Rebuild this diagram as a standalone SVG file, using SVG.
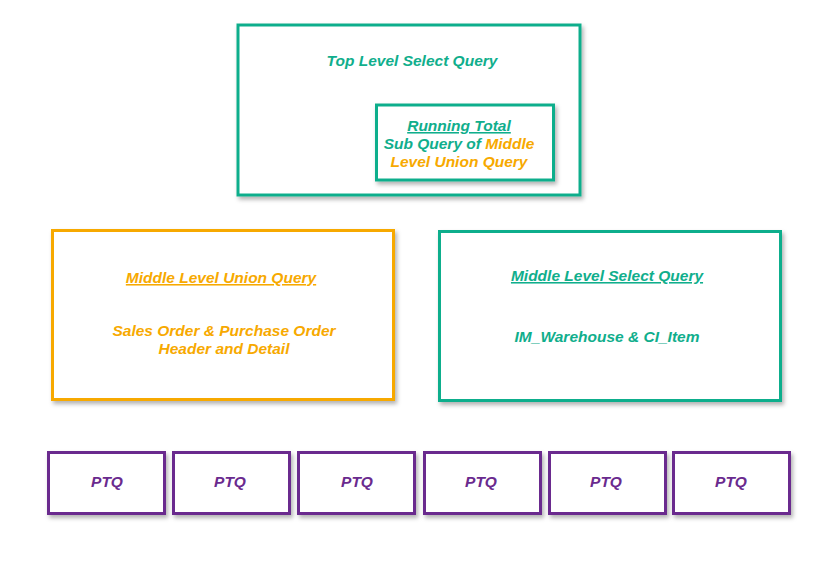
<svg xmlns="http://www.w3.org/2000/svg" width="823" height="575" viewBox="0 0 823 575">
<defs>
<filter id="sh" x="-10%" y="-10%" width="130%" height="140%">
<feDropShadow dx="2" dy="3" stdDeviation="2" flood-color="#000" flood-opacity="0.3"/>
</filter>
<style>
.box{fill:#fff;stroke-width:3;filter:url(#sh)}
.teal{stroke:#10AE8C}
.orange{stroke:#F7A900}
.purple{stroke:#6A2A8E}
text{font-family:"Liberation Sans",Arial,sans-serif;font-weight:bold;font-style:italic;font-size:15.5px;text-anchor:middle}
.tt{fill:#10AE8C}
.to{fill:#F7A900}
.tp{fill:#6A2A8E}
.u{text-decoration:underline}
</style>
</defs>
<rect width="823" height="575" fill="#fff"/>
<g id="connectors"></g>
<g id="top">
<rect class="box teal" x="238" y="25" width="342" height="170"/>
<text class="tt" x="412" y="66">Top Level Select Query</text>
</g>
<g id="running-total">
<rect class="box teal" x="376.5" y="105" width="177" height="75"/>
<text class="tt u" x="459" y="131">Running Total</text>
<text x="459" y="149"><tspan class="tt">Sub Query of </tspan><tspan class="to">Middle</tspan></text>
<text class="to" x="459" y="167">Level Union Query</text>
</g>
<g id="middle-union">
<rect class="box orange" x="52.5" y="230.5" width="341" height="169"/>
<text class="to u" x="221" y="283">Middle Level Union Query</text>
<text class="to" x="224" y="336">Sales Order &amp; Purchase Order</text>
<text class="to" x="224" y="354">Header and Detail</text>
</g>
<g id="middle-select">
<rect class="box teal" x="439.5" y="231.5" width="341" height="169"/>
<text class="tt u" x="607" y="281">Middle Level Select Query</text>
<text class="tt" x="607" y="342">IM_Warehouse &amp; CI_Item</text>
</g>
<g id="ptq1"><rect class="box purple" x="48.5" y="452.5" width="116" height="61"/><text class="tp" x="107" y="487">PTQ</text></g>
<g id="ptq2"><rect class="box purple" x="173.5" y="452.5" width="116" height="61"/><text class="tp" x="230" y="487">PTQ</text></g>
<g id="ptq3"><rect class="box purple" x="298.5" y="452.5" width="116" height="61"/><text class="tp" x="357" y="487">PTQ</text></g>
<g id="ptq4"><rect class="box purple" x="424.5" y="452.5" width="116" height="61"/><text class="tp" x="481" y="487">PTQ</text></g>
<g id="ptq5"><rect class="box purple" x="549.5" y="452.5" width="116" height="61"/><text class="tp" x="606" y="487">PTQ</text></g>
<g id="ptq6"><rect class="box purple" x="673.5" y="452.5" width="116" height="61"/><text class="tp" x="731" y="487">PTQ</text></g>
</svg>
